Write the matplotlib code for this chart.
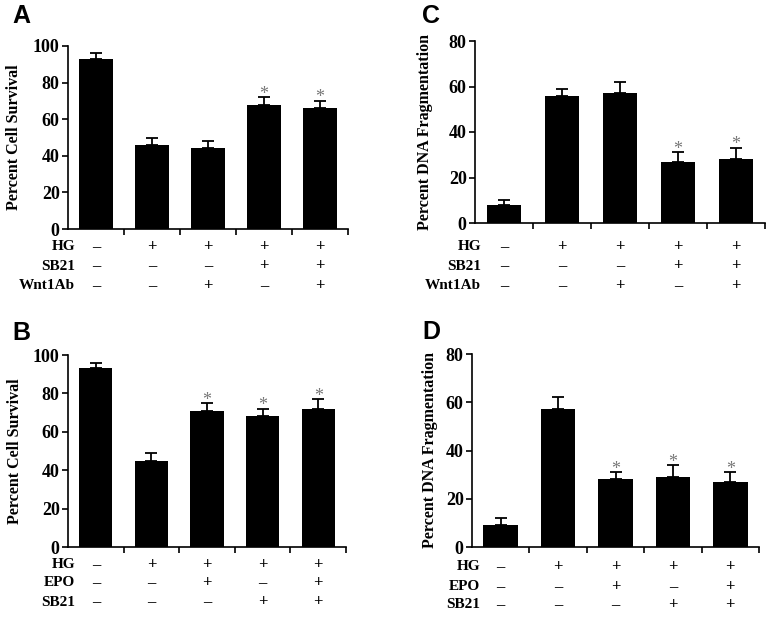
import matplotlib
matplotlib.use('Agg')
from matplotlib import pyplot as plt
from matplotlib.transforms import blended_transform_factory

plt.rcParams['font.family'] = ['Liberation Serif', 'DejaVu Serif']
plt.rcParams['font.weight'] = 'bold'

# panel A: cell survival, SB21 / Wnt1Ab
a_vals = [93, 46, 44, 68, 66]
a_err = [3, 4, 4, 4, 4]
a_star = [False, False, False, True, True]
# panel B: cell survival, EPO / SB21
b_vals = [93, 45, 71, 68, 72]
b_err = [3, 4, 4, 4, 5]
b_star = [False, False, True, True, True]
# panel C: DNA fragmentation, SB21 / Wnt1Ab
c_vals = [8, 56, 57, 27, 28]
c_err = [2, 3, 5, 4, 5]
c_star = [False, False, False, True, True]
# panel D: DNA fragmentation, EPO / SB21
d_vals = [9, 57, 28, 29, 27]
d_err = [3, 5, 3, 5, 4]
d_star = [False, False, True, True, True]

rows_wnt = ['HG', 'SB21', 'Wnt1Ab']
signs_wnt = [['-', '+', '+', '+', '+'],
             ['-', '-', '-', '+', '+'],
             ['-', '-', '+', '-', '+']]
rows_epo = ['HG', 'EPO', 'SB21']
signs_epo = [['-', '+', '+', '+', '+'],
             ['-', '-', '+', '-', '+'],
             ['-', '-', '-', '+', '+']]

W, H = 774, 617
fig = plt.figure(figsize=(W / 100, H / 100), dpi=100)


def panel(l, r, t, b, vals, err, star, ymax, yticks, ylabel, labx,
          rows, signs, row_y, row_x, letter, let_xy):
    ax = fig.add_axes([l / W, 1 - b / H, (r - l) / W, (b - t) / H])
    xs = range(len(vals))
    ax.bar(xs, vals, width=0.6, color='black')
    ax.errorbar(xs, vals, yerr=[[0] * len(err), err], fmt='none',
                ecolor='black', elinewidth=1.3, capsize=4, capthick=1.3)
    for x, v, e, s in zip(xs, vals, err, star):
        if s:
            ax.annotate('*', (x, v + e), xytext=(0, -4),
                        textcoords='offset points', ha='center', va='bottom',
                        color='#777777', fontsize=13, fontweight='normal')
    ax.set_xlim(-0.5, len(vals) - 0.5)
    ax.set_ylim(0, ymax)
    ax.set_yticks(yticks)
    ax.set_xticks([i + 0.5 for i in range(len(vals))])
    ax.set_xticklabels([])
    ax.tick_params(axis='y', labelsize=13, length=4, width=1.2, pad=2)
    ax.tick_params(axis='x', length=4, width=1.2)
    for lab in ax.get_yticklabels():
        lab.set_fontweight('bold')
    for sp in ['top', 'right']:
        ax.spines[sp].set_visible(False)
    for sp in ['left', 'bottom']:
        ax.spines[sp].set_linewidth(1.2)
    ax.set_ylabel(ylabel, fontsize=11.5, fontweight='bold')
    ax.yaxis.set_label_coords(labx, 0.5)

    tr = blended_transform_factory(ax.transData, fig.transFigure)
    for name, row, y in zip(rows, signs, row_y):
        fig.text(row_x / W, 1 - y / H, name, ha='right', va='center',
                 fontsize=11, fontweight='bold')
        for x, s in zip(xs, row):
            ax.text(x, 1 - y / H, '+' if s == '+' else '\u2013',
                    transform=tr, ha='center', va='center',
                    fontsize=12, fontweight='bold', clip_on=False)
    fig.text(let_xy[0] / W, 1 - let_xy[1] / H, letter, ha='left',
             va='center', fontsize=18, fontweight='bold',
             family='Liberation Sans')
    return ax


panel(68, 348, 46, 229, a_vals, a_err, a_star, 100, range(0, 101, 20),
      'Percent Cell Survival', -0.164, rows_wnt, signs_wnt,
      [247, 266, 286], 75, 'A', (12, 16))
panel(475, 765, 41, 223, c_vals, c_err, c_star, 80, range(0, 81, 20),
      'Percent DNA Fragmentation', -0.145, rows_wnt, signs_wnt,
      [247, 266, 286], 481, 'C', (422, 16))
panel(68, 346, 355, 547, b_vals, b_err, b_star, 100, range(0, 101, 20),
      'Percent Cell Survival', -0.162, rows_epo, signs_epo,
      [565, 583, 602], 75, 'B', (12, 333))
panel(472, 759, 354, 547, d_vals, d_err, d_star, 80, range(0, 81, 20),
      'Percent DNA Fragmentation', -0.118, rows_epo, signs_epo,
      [567, 587, 605], 480, 'D', (422, 332))

fig.savefig('out.png', dpi=100)
